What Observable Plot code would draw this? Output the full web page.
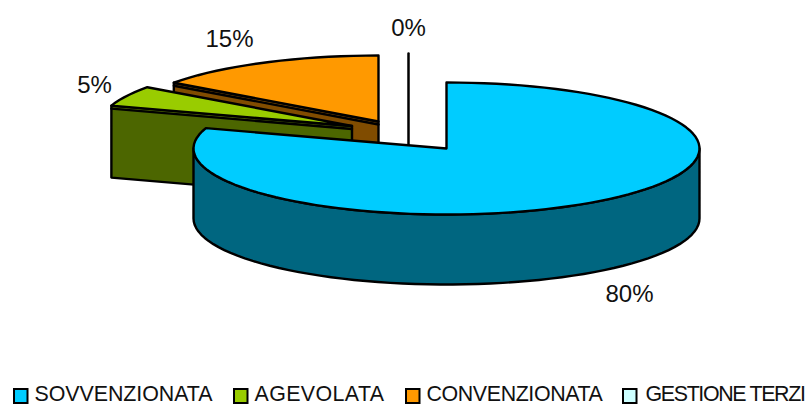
<!DOCTYPE html>
<html><head><meta charset="utf-8">
<script src="https://cdn.jsdelivr.net/npm/d3@7"></script>
<script src="https://cdn.jsdelivr.net/npm/@observablehq/plot@0.6"></script>
<style>html,body{margin:0;padding:0;background:#fff}svg{display:block}</style>
</head><body><div id="chart"></div>
<script>
const categories = ["SOVVENZIONATA","AGEVOLATA","CONVENZIONATA","GESTIONE TERZI"];
const values = [80,5,15,0];
const labels = ["80%","5%","15%","0%"];
const topColors = ["#00CCFF","#99CC00","#FF9900","#CCFFFF"];
const sideColors = ["#006680","#4C6600","#804C00","#668080"];

// pie geometry
const rx = 253, ry = 66, depth = 70;
const centers = [[446,148],[351.5,125.5],[378,121],[408,119]];
const labelPos = [[629,301],[94,92],[229,46],[408,35]];
const legendSwatch = [14,234,406,623];
const legendText = [[34,178],[254,130],[426,176],[645,159]];

const total = d3.sum(values);
const cum = d3.cumsum(values);
const pt = (c,a,dy=0)=>({x:c[0]+rx*Math.sin(a), y:c[1]-ry*Math.cos(a)+dy});
const arc = (c,a0,a1,dy=0)=>{const n=Math.max(2,Math.ceil(Math.abs(a1-a0)/0.05));
  return d3.range(n+1).map(i=>pt(c,a0+(a1-a0)*i/n,dy));};
const slices = values.map((v,i)=>({i,c:centers[i],a0:2*Math.PI*(cum[i]-v)/total,a1:2*Math.PI*cum[i]/total}));

const sw = 2.4;
const poly = (pts,fill)=>Plot.line(pts,{x:"x",y:"y",curve:"linear-closed",fill,stroke:"#000",strokeWidth:sw,strokeLinejoin:"round"});
const apex = (c,dy=0)=>({x:c[0],y:c[1]+dy});
const face = (s,a)=>[
  poly([apex(s.c),pt(s.c,a),pt(s.c,a,depth+2),apex(s.c,depth+2)],sideColors[s.i]),
  Plot.line([pt(s.c,a,3),apex(s.c,3)],{x:"x",y:"y",stroke:"#000",strokeWidth:sw})
];
const topFace = s=>poly([apex(s.c),...arc(s.c,s.a0,s.a1)],topColors[s.i]);

const [blue,green,orange,zero] = slices;
const marks = [
  face(orange,orange.a0), topFace(orange),
  face(green,green.a0), topFace(green),
  Plot.line([apex(zero.c,-66),apex(zero.c,depth)],{x:"x",y:"y",stroke:"#000",strokeWidth:2.5}),
  poly([...arc(blue.c,Math.PI/2,3*Math.PI/2),...arc(blue.c,3*Math.PI/2,Math.PI/2,depth)],sideColors[0]),
  topFace(blue),
  Plot.text(labels.map((t,i)=>({t,x:labelPos[i][0],y:labelPos[i][1]})),{x:"x",y:"y",text:"t",fontSize:24,fill:"#111",lineAnchor:"bottom",textAnchor:"middle"}),
  Plot.rect(categories.map((c,i)=>({x1:legendSwatch[i],x2:legendSwatch[i]+13.5,y1:389,y2:403,f:topColors[i]})),{x1:"x1",x2:"x2",y1:"y1",y2:"y2",fill:"f",stroke:"#000",strokeWidth:2}),
  Plot.text(categories.map((c,i)=>({c,x:legendText[i][0],y:393.6})),{x:"x",y:"y",text:"c",fontSize:21.4,fill:"#111",lineAnchor:"middle",textAnchor:"start",className:"legend-label"})
];
const chart = Plot.plot({width:810,height:405,margin:0,style:{fontFamily:"'Liberation Sans',Arial,sans-serif",background:"#fff"},
  x:{domain:[0,810],range:[0,810],axis:null},y:{domain:[0,405],range:[0,405],axis:null},marks});
document.getElementById("chart").append(chart);
chart.querySelectorAll(".legend-label text").forEach((t,i)=>{
  const natural = t.getComputedTextLength();
  t.style.letterSpacing = ((legendText[i][1]-natural)/t.textContent.length)+"px";
});
</script></body></html>
